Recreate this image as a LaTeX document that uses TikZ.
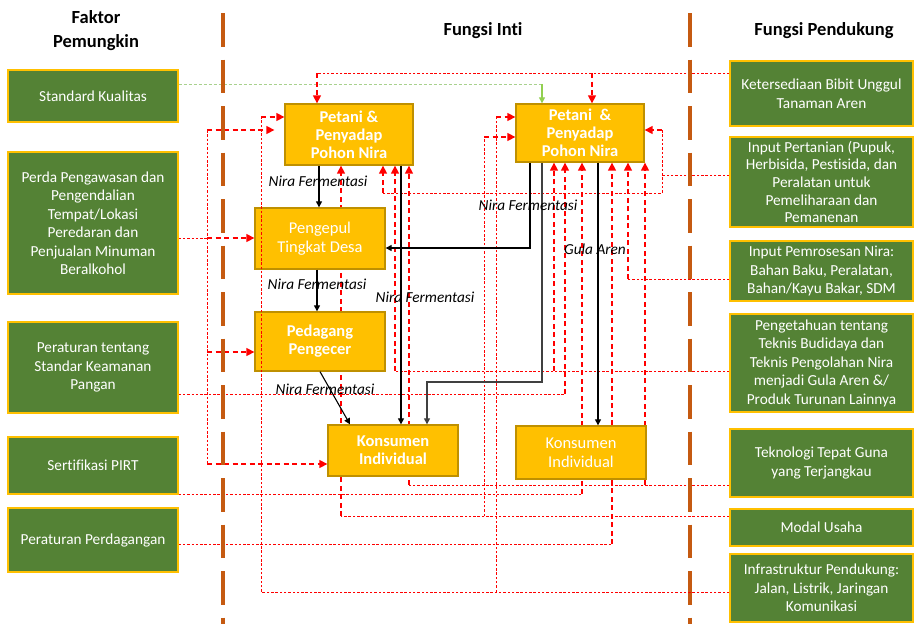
\documentclass[tikz,border=0pt]{standalone}
\usepackage{fontspec}
\setmainfont[Ligatures={NoCommon}]{Carlito}
\usetikzlibrary{arrows.meta}
\definecolor{boxgreen}{HTML}{548235}
\definecolor{goldline}{HTML}{FFC000}
\definecolor{boxyellow}{HTML}{FFC000}
\definecolor{darkgold}{HTML}{BF9000}
\definecolor{divbrown}{HTML}{C55A11}
\definecolor{lightgreen}{HTML}{A9D18E}
\definecolor{arrowgreen}{HTML}{92D050}
\definecolor{linered}{HTML}{FF0000}
\pgfdeclarelayer{bg}
\pgfsetlayers{bg,main}
\tikzset{
 greenbox/.style={draw=goldline, line width=1.3pt, fill=boxgreen, text=white, align=center, inner sep=0pt, font=\fontsize{15.3}{18.5}\selectfont},
 yellowbox/.style={draw=darkgold, line width=1.3pt, fill=boxyellow, text=white, align=center, inner sep=0pt, font=\fontsize{16.5}{19}\selectfont},
 yellowbold/.style={yellowbox, font=\fontsize{16.5}{18}\selectfont\bfseries},
 redthin/.style={draw=linered, line width=0.9pt, dash pattern=on 2.5pt off 1.8pt},
 redthick/.style={draw=linered, line width=1.4pt, dash pattern=on 5pt off 3.5pt, -{Triangle[length=8pt,width=8pt]}},
 flowarrow/.style={draw=black, line width=1.1pt, -{Triangle[length=6pt,width=6pt]}},
 flowtext/.style={font=\fontsize{15.3}{18}\selectfont\itshape, inner sep=0pt},
 header/.style={font=\fontsize{18.5}{24}\selectfont\bfseries, align=center},
 divider/.style={draw=divbrown, line width=4pt, dash pattern=on 33.5pt off 13pt}
}
\begin{document}
\begin{tikzpicture}[x=1pt,y=-1pt]
\useasboundingbox (0,0) rectangle (915,624);
% headers
\node[header] (h1) at (96,31) {Faktor\\Pemungkin};
\node[header] (h2) at (483,31) {Fungsi Inti};
\node[header] (h3) at (824,31) {Fungsi Pendukung};
% dividers
\coordinate (d1a) at (223,13); \coordinate (d1b) at (223,624);
\coordinate (d2a) at (690,13); \coordinate (d2b) at (690,624);
\draw[divider] (d1a) -- (d1b);
\draw[divider] (d2a) -- (d2b);
% left boxes
\node[greenbox, minimum width=170pt, minimum height=52pt] (L1) at (93,96) {Standard Kualitas};
\node[greenbox, minimum width=170pt, minimum height=142pt] (L2) at (93,223) {Perda Pengawasan dan\\Pengendalian\\Tempat/Lokasi\\Peredaran dan\\Penjualan Minuman\\Beralkohol};
\node[greenbox, minimum width=170pt, minimum height=91pt] (L3) at (93,367.5) {Peraturan tentang\\Standar Keamanan\\Pangan};
\node[greenbox, minimum width=170pt, minimum height=57pt] (L4) at (93,465.5) {Sertifikasi PIRT};
\node[greenbox, minimum width=170pt, minimum height=64pt] (L5) at (93,540) {Peraturan Perdagangan};
% right boxes
\node[greenbox, minimum width=183pt, minimum height=65pt] (R1) at (821.5,93.5) {Ketersediaan Bibit Unggul\\Tanaman Aren};
\node[greenbox, minimum width=183pt, minimum height=90pt, font=\fontsize{15.3}{17.6}\selectfont] (R2) at (821.5,182) {Input Pertanian (Pupuk,\\Herbisida, Pestisida, dan\\Peralatan untuk\\Pemeliharaan dan\\Pemanenan};
\node[greenbox, minimum width=183pt, minimum height=60pt] (R3) at (821.5,271) {Input Pemrosesan Nira:\\Bahan Baku, Peralatan,\\Bahan/Kayu Bakar, SDM};
\node[greenbox, minimum width=183pt, minimum height=98pt] (R4) at (821.5,363) {Pengetahuan tentang\\Teknis Budidaya dan\\Teknis Pengolahan Nira\\menjadi Gula Aren \&/\\Produk Turunan Lainnya};
\node[greenbox, minimum width=183pt, minimum height=68pt] (R5) at (821.5,463) {Teknologi Tepat Guna\\yang Terjangkau};
\node[greenbox, minimum width=183pt, minimum height=37pt] (R6) at (821.5,527.5) {Modal Usaha};
\node[greenbox, minimum width=183pt, minimum height=68pt] (R7) at (821.5,588) {Infrastruktur Pendukung:\\Jalan, Listrik, Jaringan\\Komunikasi};
% yellow boxes
\node[yellowbold, minimum width=128pt, minimum height=61pt] (Y1) at (349,134.5) {Petani \&\\Penyadap\\Pohon Nira};
\node[yellowbold, minimum width=128pt, minimum height=58pt] (Y2) at (580,133) {Petani ~\&\\Penyadap\\Pohon Nira};
\node[yellowbox, minimum width=130pt, minimum height=61pt] (Y3) at (320,238.5) {Pengepul\\Tingkat Desa};
\node[yellowbold, minimum width=130pt, minimum height=59pt] (Y4) at (320,341.5) {Pedagang\\Pengecer};
\node[yellowbold, minimum width=130pt, minimum height=51pt] (Y5) at (393,450.5) {Konsumen\\Individual};
\node[yellowbox, minimum width=130pt, minimum height=53pt] (Y6) at (581,452.5) {Konsumen\\Individual};

\begin{pgfonlayer}{bg}
% green standard line
\draw[draw=lightgreen, line width=1pt, dash pattern=on 3pt off 2pt] (L1.east |- 0,84) -- (542,84);
\draw[draw=arrowgreen, line width=1.1pt, -{Triangle[length=6pt,width=6pt]}] (542,84) -- (Y2.north -| 542,0);
% R1
\draw[redthin] (R1.west |- 0,73) -- (317,73);
\draw[redthick] (317,73) -- (Y1.north -| 317,0);
\draw[redthick] (592,73) -- (Y2.north -| 592,0);
% R2
\draw[redthin] (R2.west |- 0,175) -- (662,175);
\draw[redthin] (662,130) -- (662,193) -- (383,193);
\draw[redthick] (662,130) -- (Y2.east |- 0,130);
\draw[redthick] (383,193) -- (Y1.south -| 383,0);
% R3
\draw[redthin] (R3.west |- 0,279) -- (628,279);
\draw[redthick] (628,279) -- (Y2.south -| 628,0);
% R4
\draw[redthin] (R4.west |- 0,371) -- (395,371);
\draw[redthick] (395,371) -- (Y1.south -| 395,0);
\draw[redthick] (554,371) -- (Y2.south -| 554,0);
% R5
\draw[redthin] (R5.west |- 0,485) -- (409,485);
\draw[redthick] (409,485) -- (Y1.south -| 409,0);
\draw[redthick] (645,485) -- (Y2.south -| 645,0);
% R6
\draw[redthin] (R6.west |- 0,516) -- (341,516);
\draw[redthick] (341,516) -- (Y1.south -| 341,0);
\draw[redthin] (484,516) -- (484,137);
\draw[redthick] (484,137) -- (Y2.west |- 0,137);
% R7 (to Y2)
\draw[redthin] (496,592) -- (496,117);
\draw[redthick] (496,117) -- (Y2.west |- 0,117);
% L2
\draw[redthin] (L2.east |- 0,238) -- (207,238);
\draw[redthin] (207,130) -- (207,464);
\draw[redthick, shorten >=10pt] (207,130) -- (Y1.west |- 0,130);
\draw[redthick] (207,238) -- (Y3.west |- 0,238);
\draw[redthick] (207,352) -- (Y4.west |- 0,352);
\draw[redthick] (207,464) -- (Y5.west |- 0,464);
% L3
\draw[redthin] (L3.east |- 0,394) -- (565,394);
\draw[redthick] (565,394) -- (Y2.south -| 565,0);
% L4
\draw[redthin] (L4.east |- 0,494) -- (582,494);
\draw[redthick] (582,494) -- (Y2.south -| 582,0);
% L5
\draw[redthin] (L5.east |- 0,544) -- (612,544);
\draw[redthick] (612,544) -- (Y2.south -| 612,0);
\end{pgfonlayer}

% R7 line to Y1 (drawn over Y3, Y4)
\draw[redthin] (R7.west |- 0,592) -- (261,592) -- (261,117);
\draw[redthick] (261,117) -- (Y1.west |- 0,117);

% black flows
\draw[flowarrow] (Y1.south -| 319,0) -- (Y3.north -| 319,0);
\draw[flowarrow] (Y3.south -| 317,0) -- (Y4.north -| 317,0);
\draw[flowarrow] (Y4.south -| 320,0) -- (Y5.north -| 350,0);
\draw[flowarrow] (Y1.south -| 401,0) -- (Y5.north -| 401,0);
\draw[flowarrow] (Y2.south -| 530,0) |- (Y3.east |- 0,248);
\draw[flowarrow, draw=black!75] (Y2.south -| 542,0) -- (542,382) -| (Y5.north -| 427,0);
\draw[flowarrow] (Y2.south -| 598,0) -- (Y6.north -| 598,0);

% flow labels
\node[flowtext] (t1) at (318,181) {Nira Fermentasi};
\node[flowtext] (t2) at (317,284) {Nira Fermentasi};
\node[flowtext] (t3) at (325,389) {Nira Fermentasi};
\node[flowtext] (t4) at (528,205) {Nira Fermentasi};
\node[flowtext] (t5) at (425,297) {Nira Fermentasi};
\node[flowtext] (t6) at (595,249) {Gula Aren};
\end{tikzpicture}
\end{document}
